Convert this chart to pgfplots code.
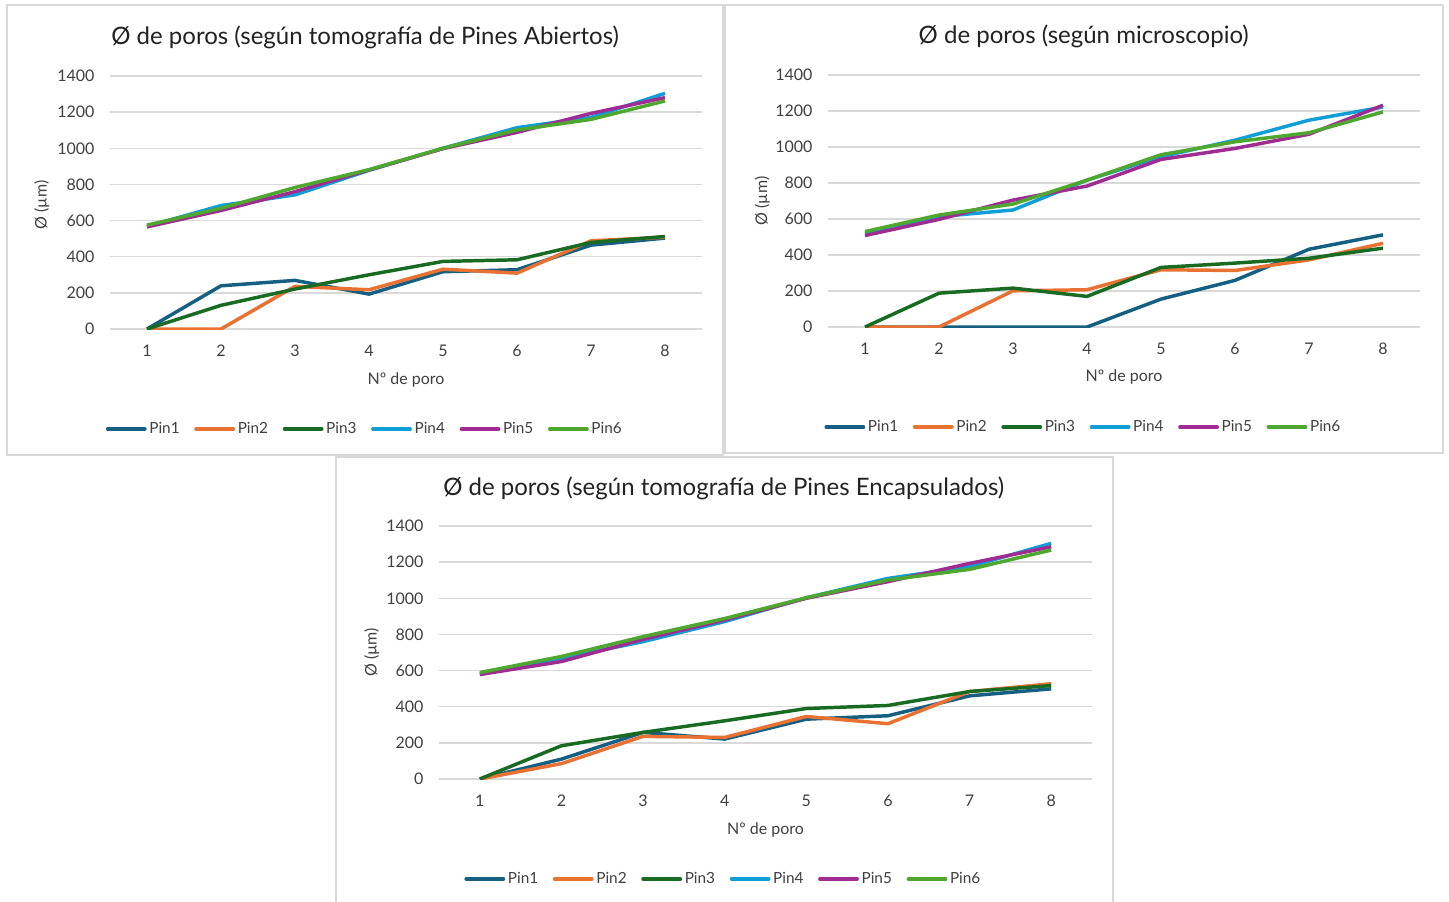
\documentclass[border=0pt]{standalone}
\usepackage{pgfplots}
\usepackage{pgfplotstable}
\pgfplotsset{compat=1.18}
\usepackage{fontspec}
\setmainfont{Lato}

\definecolor{pinA}{HTML}{156082}
\definecolor{pinB}{HTML}{E97132}
\definecolor{pinC}{HTML}{196B24}
\definecolor{pinD}{HTML}{0F9ED5}
\definecolor{pinE}{HTML}{A02B93}
\definecolor{pinF}{HTML}{4EA72E}
\definecolor{txt}{HTML}{404040}
\definecolor{titlec}{HTML}{222222}
\definecolor{gridc}{HTML}{D9D9D9}
\definecolor{framec}{HTML}{D9D9D9}

% Pore diameter (um) per pore number, pins 1-6
\pgfplotstableread{
x p1  p2  p3  p4   p5   p6
1 0   0   0   568  565  575
2 239 0   131 683  656  668
3 269 236 221 742  760  783
4 193 217 300 878  880  882
5 317 331 374 1000 998  1000
6 328 309 383 1114 1088 1101
7 464 488 479 1171 1193 1160
8 503 508 512 1304 1280 1262
}\tabAbiertos

\pgfplotstableread{
x p1  p2  p3  p4   p5   p6
1 0   0   0   520  508  530
2 0   0   188 613  598  622
3 0   201 216 650  705  683
4 0   207 170 816  783  816
5 155 318 331 946  931  957
6 259 314 355 1038 992  1029
7 432 373 382 1149 1071 1079
8 512 465 438 1222 1232 1195
}\tabMicro

\pgfplotstableread{
x p1  p2  p3  p4   p5   p6
1 0   0   0   580  578  589
2 110 85  184 668  650  678
3 258 236 258 760  773  788
4 221 230 322 871  880  888
5 331 346 390 1003 1000 1003
6 350 306 407 1110 1092 1101
7 460 484 484 1175 1193 1160
8 499 527 517 1304 1285 1267
}\tabEncap

\pgfplotsset{
  poro/.style={
    scale only axis,
    xmin=0.5, xmax=8.5, ymin=0, ymax=1400,
    xtick={1,...,8}, ytick={0,200,...,1400},
    ymajorgrids, grid style={draw=gridc, line width=1pt},
    axis line style={draw=none},
    major tick length=0pt,
    tick label style={font=\fontsize{12}{14}\selectfont, text=txt},
    /pgf/number format/assume math mode=true,
    /pgf/number format/1000 sep={},
    yticklabel style={inner sep=0pt, xshift=-11.5pt},
    xticklabel style={inner sep=0pt, yshift=-12pt},
    every axis title shift=0pt,
    title style={font=\fontsize{18}{21}\selectfont, text=titlec, anchor=center, inner sep=0pt},
    label style={font=\fontsize{12}{14}\selectfont, text=txt},
    xlabel={Nº de poro},
    ylabel={Ø (µm)},
    legend columns=6,
    legend style={draw=none, fill=none, anchor=center,
      font=\fontsize{11.5}{13}\selectfont, text=txt,
      /tikz/every even column/.append style={column sep=9pt}},
    legend image code/.code={\draw[#1, line cap=round] (0pt,0pt) -- (28pt,0pt);},
    every axis plot/.append style={line width=2.6pt, line join=round},
  },
}

\newcommand\pinplots[1]{%
  \addplot[pinA] table[x=x, y=p1] {#1};
  \addplot[pinB] table[x=x, y=p2] {#1};
  \addplot[pinC] table[x=x, y=p3] {#1};
  \addplot[pinD] table[x=x, y=p4] {#1};
  \addplot[pinE] table[x=x, y=p5] {#1};
  \addplot[pinF] table[x=x, y=p6] {#1};
  \legend{Pin1, Pin2, Pin3, Pin4, Pin5, Pin6}
}

\begin{document}
\begin{tikzpicture}
\useasboundingbox (0,0) rectangle (1086.75pt, 675.75pt);
\fill[white] (0,0) rectangle (1086.75pt, 675.75pt);

% panel frames
\begin{scope}[x=0.75pt, y=0.75pt, draw=framec, line width=1.1pt]
  \draw (7,446) rectangle (723,896);
  \draw (725,448) rectangle (1443,896);
  \draw (336,-10) rectangle (1113,444);
\end{scope}

% open pins (tomography)
\begin{axis}[poro,
  at={(82.5pt,429pt)}, anchor=south west,
  width=444pt, height=189.75pt,
  title={Ø de poros (según tomografía de Pines Abiertos)},
  title style={at={(axis description cs:0.431,1.154)}, anchor=center},
  xlabel style={at={(axis description cs:0.5,-0.2)}, anchor=center},
  ylabel style={at={(axis description cs:-0.115,0.49)}, anchor=center},
  legend style={at={(0.431,-0.395)}},
]
\pinplots{\tabAbiertos}
\end{axis}

% microscope
\begin{axis}[poro,
  at={(621pt,430.5pt)}, anchor=south west,
  width=444pt, height=189pt,
  title={Ø de poros (según microscopio)},
  title style={at={(axis description cs:0.432,1.155)}, anchor=center},
  xlabel style={at={(axis description cs:0.5,-0.2)}, anchor=center},
  ylabel style={at={(axis description cs:-0.111,0.5)}, anchor=center},
  legend style={at={(0.432,-0.397)}},
]
\pinplots{\tabMicro}
\end{axis}

% encapsulated pins (tomography)
\begin{axis}[poro,
  at={(329.25pt,91.5pt)}, anchor=south west,
  width=489.75pt, height=189.75pt,
  title={Ø de poros (según tomografía de Pines Encapsulados)},
  title style={at={(axis description cs:0.436,1.150)}, anchor=center},
  xlabel style={at={(axis description cs:0.5,-0.2)}, anchor=center},
  ylabel style={at={(axis description cs:-0.103,0.5)}, anchor=center},
  legend style={at={(0.436,-0.395)}},
]
\pinplots{\tabEncap}
\end{axis}
\end{tikzpicture}
\end{document}
